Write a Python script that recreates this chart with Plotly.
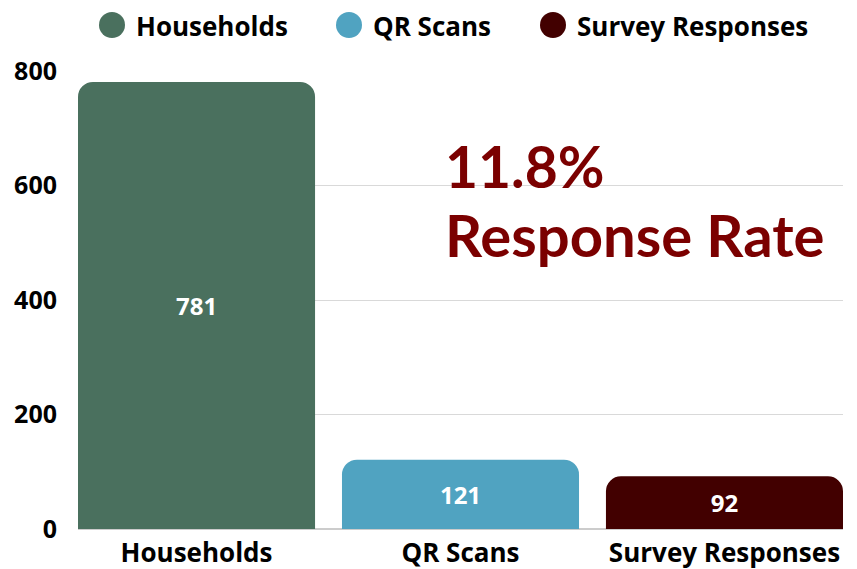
import plotly.graph_objects as go

categories = ["Households", "QR Scans", "Survey Responses"]
values = [781, 121, 92]
colors = ["#4a705e", "#50a3c1", "#420000"]
y_ticks = [0, 200, 400, 600, 800]
rate_line1 = "11.8%"
rate_line2 = "Response Rate"

# page has an 8px body margin; work in screenshot coordinates and subtract it
OFF = 8
W, H = 857 - OFF, 569 - OFF
ML, MR, MT, MB = 78 - OFF, 14, 71 - OFF, 40
pw = W - ML - MR
ph = H - MT - MB

fig = go.Figure()
fig.add_trace(go.Bar(
    x=categories, y=values,
    marker=dict(color=colors, line=dict(width=0)),
    text=[str(v) for v in values],
    textposition="inside", insidetextanchor="middle",
    textfont=dict(family="Open Sans", size=24, color="white", weight="bold"),
    showlegend=False, hoverinfo="x+y",
))

bargap = 0.102
half = (1 - bargap) / 2
fig.update_layout(
    width=W, height=H,
    margin=dict(l=ML, r=MR, t=MT, b=MB, autoexpand=False),
    paper_bgcolor="white", plot_bgcolor="white",
    bargap=bargap, barcornerradius=15,
    font=dict(family="Open Sans", color="black"),
    xaxis=dict(range=[-half, 2 + half], showgrid=False, showline=False,
               ticks="", ticklabelstandoff=6, automargin=False,
               tickfont=dict(family="Open Sans", size=26, weight="bold", color="black")),
    yaxis=dict(range=[0, 800], tickvals=y_ticks, showgrid=True, gridcolor="#d9d9d9",
               gridwidth=1, zeroline=True, zerolinecolor="#cccccc", zerolinewidth=2,
               ticks="", ticklabelstandoff=20, automargin=False,
               tickfont=dict(family="Open Sans", size=25, weight="bold", color="black")),
)

def px_x(x):
    return (x - OFF - ML) / pw

def px_y(y):
    return 1 - (y - OFF - MT) / ph

# legend drawn manually (circle + text)
legend_x = [112, 349, 553]
legend_y = 25
for name, col, lx in zip(categories, colors, legend_x):
    fig.add_shape(type="circle", xref="paper", yref="paper",
                  xsizemode="pixel", ysizemode="pixel",
                  xanchor=px_x(lx), yanchor=px_y(legend_y),
                  x0=-13, x1=13, y0=-13, y1=13,
                  fillcolor=col, line=dict(width=0))
    fig.add_annotation(text=name, xref="paper", yref="paper",
                       x=px_x(lx + 23), y=px_y(legend_y + 0.5),
                       xanchor="left", yanchor="middle", showarrow=False,
                       borderpad=0,
                       font=dict(family="Open Sans", size=26, weight="bold", color="black"))

fig.add_annotation(text=rate_line1, xref="paper", yref="paper",
                   x=px_x(443), y=px_y(166),
                   xanchor="left", yanchor="middle", showarrow=False,
                   font=dict(family="Lato", size=57, weight="bold", color="#7b0000"))
fig.add_annotation(text=rate_line2, xref="paper", yref="paper",
                   x=px_x(443), y=px_y(235),
                   xanchor="left", yanchor="middle", showarrow=False,
                   font=dict(family="Lato", size=58, weight="bold", color="#7b0000"))

fig.write_html("out.html")
